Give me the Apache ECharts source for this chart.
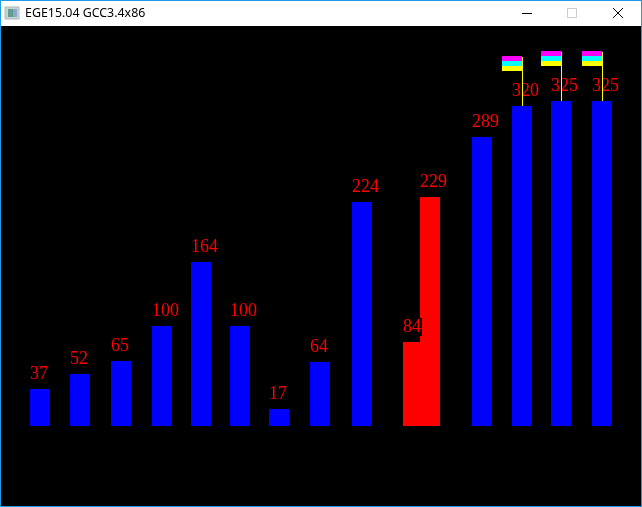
<!DOCTYPE html>
<html>
<head>
<meta charset="utf-8">
<style>html,body{margin:0;padding:0;background:#000}#c{width:642px;height:507px}</style>
<script src="https://cdn.jsdelivr.net/npm/echarts@6/dist/echarts.min.js"></script>
</head>
<body>
<div id="c"></div>
<script>
const titleText = 'EGE15.04 GCC3.4x86';
const slots  = [40, 80, 121, 162, 201, 240, 279, 320, 362, 413, 430, 482, 522, 561, 602];
const values = [37, 52, 65, 100, 164, 100, 17, 64, 224, 84, 229, 289, 320, 325, 325];
const redSlots = [413, 430];
const flagSlots = [522, 561, 602];
const flagValues = [320, 325, 325];
const flagBands = ['#ff00ff', '#00ffff', '#ffff00'];

const chart = echarts.init(document.getElementById('c'), null, {renderer: 'canvas', width: 642, height: 507});
const barData = slots.map((s, i) => ({
  value: [s, values[i]],
  itemStyle: {color: redSlots.includes(s) ? '#ff0000' : '#0000ff'}
}));
const border = '#1e9be6';
chart.setOption({
  animation: false,
  backgroundColor: '#000',
  grid: {left: 0, right: 0, top: 26, bottom: 81},
  xAxis: {type: 'value', min: 0, max: 642, show: false},
  yAxis: {type: 'value', min: 0, max: 400, show: false},
  series: [
    {
      type: 'bar', barWidth: 20, data: barData, z: 2,
      label: {
        show: true, position: 'top', align: 'left', offset: [-10, -1],
        formatter: p => String(p.value[1]),
        color: '#ff0000', fontFamily: 'Liberation Serif', fontSize: 18,
        lineHeight: 18, backgroundColor: '#000', padding: [0, 1, 0, 0]
      }
    },
    {
      type: 'custom', z: 5, silent: true,
      data: flagSlots.map((s, i) => [s, flagValues[i]]),
      renderItem: (params, api) => {
        const base = api.coord([api.value(0), api.value(1)]);
        const top = api.coord([api.value(0), api.value(1) + 50]);
        const kids = flagBands.map((c, k) => ({
          type: 'rect',
          shape: {x: top[0] - 20, y: top[1] + k * 5, width: 20, height: 5},
          style: {fill: c}
        }));
        kids.push({
          type: 'rect',
          shape: {x: top[0], y: top[1] + 1, width: 1, height: base[1] - top[1] - 1},
          style: {fill: '#ffff00'}
        });
        return {type: 'group', children: kids};
      }
    }
  ],
  graphic: [
    {type: 'rect', z: 100, shape: {x: 0, y: 0, width: 642, height: 26}, style: {fill: '#fff'}},
    {type: 'rect', z: 101, shape: {x: 0, y: 0, width: 642, height: 1}, style: {fill: border}},
    {type: 'rect', z: 101, shape: {x: 0, y: 0, width: 1, height: 507}, style: {fill: border}},
    {type: 'rect', z: 101, shape: {x: 641, y: 0, width: 1, height: 507}, style: {fill: border}},
    {type: 'rect', z: 101, shape: {x: 0, y: 506, width: 642, height: 1}, style: {fill: border}},
    {type: 'rect', z: 101, shape: {x: 5, y: 7, width: 14, height: 12}, style: {fill: '#c8d4d4', stroke: '#b0b8ba', lineWidth: 1}},
    {type: 'rect', z: 102, shape: {x: 8, y: 9, width: 5, height: 8}, style: {fill: '#5f9f8f'}},
    {type: 'rect', z: 102, shape: {x: 13, y: 9, width: 4, height: 8}, style: {fill: '#8aa6cc'}},
    {type: 'text', z: 102, x: 25, y: 13, style: {text: titleText, fill: '#000', font: '12.4px "Noto Sans"', verticalAlign: 'middle'}},
    {type: 'rect', z: 102, shape: {x: 522, y: 13, width: 10, height: 1}, style: {fill: '#000'}},
    {type: 'rect', z: 102, shape: {x: 567.5, y: 8.5, width: 9, height: 9}, style: {fill: 'none', stroke: '#cccccc', lineWidth: 1}},
    {type: 'line', z: 102, shape: {x1: 613, y1: 8, x2: 623, y2: 18}, style: {stroke: '#000', lineWidth: 1}},
    {type: 'line', z: 102, shape: {x1: 623, y1: 8, x2: 613, y2: 18}, style: {stroke: '#000', lineWidth: 1}}
  ]
});
</script>
</body>
</html>
